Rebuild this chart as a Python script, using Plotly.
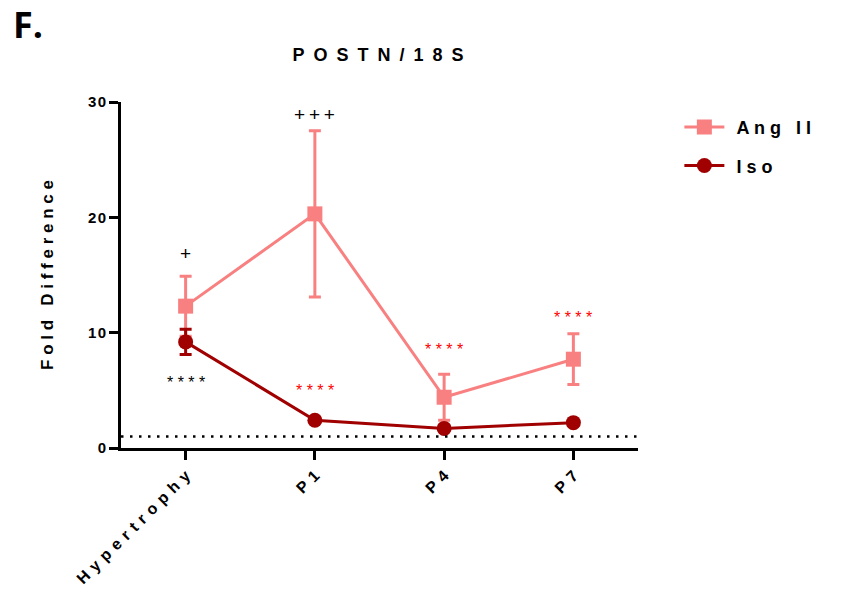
import plotly.graph_objects as go

categories = ["Hypertrophy", "P1", "P4", "P7"]
ang_mean = [12.3, 20.3, 4.4, 7.7]
ang_err = [2.6, 7.2, 2.0, 2.2]
iso_mean = [9.2, 2.4, 1.7, 2.2]
iso_err = [1.1, 0.2, 0.2, 0.2]
baseline = 1.0
yticks = [0, 10, 20, 30]

sig_black = [("+", 0, 16.9), ("+++", 1, 28.9), ("****", 0, 5.7)]
sig_red = [("****", 1, 5.0), ("****", 2, 8.5), ("****", 3, 11.3)]

def sp(s, sep="\u2009"):
    return sep.join(list(s))

ANG = "#F98080"
ISO = "#A00000"
FONT = "Liberation Sans, Arial, sans-serif"

xs = list(range(len(categories)))
fig = go.Figure()
fig.add_trace(go.Scatter(
    x=xs, y=ang_mean, name="<b>\u2009\u2009" + sp("Ang II", " ") + "</b>", mode="lines+markers",
    legendgroup="a",
    line=dict(color=ANG, width=3),
    marker=dict(symbol="square", size=15, color=ANG),
    error_y=dict(type="data", array=ang_err, color=ANG, thickness=3, width=6),
))
fig.add_trace(go.Scatter(
    x=xs, y=iso_mean, name="<b>\u2009\u2009" + sp("Iso", " ") + "</b>", mode="lines+markers",
    legendgroup="b",
    line=dict(color=ISO, width=3),
    marker=dict(symbol="circle", size=15, color=ISO),
    error_y=dict(type="data", array=iso_err, color=ISO, thickness=3, width=6),
))

fig.add_shape(type="line", xref="paper", yref="y", x0=0, x1=1, y0=baseline, y1=baseline,
              line=dict(color="black", width=2.5, dash="2.5px,6.5px"))

for txt, xi, yv in sig_black:
    if txt.startswith("+"):
        fig.add_annotation(x=xi, y=yv, text=sp(txt, "\u2009"), showarrow=False,
                           font=dict(family=FONT, size=19, color="#000000"))
    else:
        fig.add_annotation(x=xi, y=yv, text=sp(txt, " "), showarrow=False,
                           font=dict(family=FONT, size=16, color="#000000"))
for txt, xi, yv in sig_red:
    fig.add_annotation(x=xi, y=yv, text=sp(txt, " "), showarrow=False,
                       font=dict(family=FONT, size=16, color="#FF0000"))

fig.add_annotation(xref="paper", yref="paper", x=-0.212, y=1.225, xanchor="left", yanchor="middle",
                   text="<b>F.</b>", showarrow=False,
                   font=dict(family="Open Sans, sans-serif", size=36, color="black"))

fig.update_layout(
    width=841, height=589,
    margin=dict(l=121, r=203, t=102, b=141, autoexpand=False),
    paper_bgcolor="white", plot_bgcolor="white",
    title=dict(text="<b>" + sp("POSTN/18S", "\u2002") + "</b>", x=(378) / 841, xanchor="center",
               y=1 - 55 / 589, yanchor="middle",
               font=dict(family=FONT, size=18, color="black")),
    font=dict(family=FONT, color="black"),
    showlegend=True,
    legend=dict(x=1.08, y=0.98, xanchor="left", yanchor="top",
                font=dict(family=FONT, size=18, color="black"),
                itemwidth=40, tracegroupgap=12, bgcolor="rgba(0,0,0,0)"),
    xaxis=dict(range=[-0.5, 3.5], tickmode="array", tickvals=xs, automargin=False,
               ticktext=["<b>" + sp(c, " \u200a") + "</b>" for c in categories],
               tickangle=-45, showline=True, linecolor="black", linewidth=3,
               ticks="outside", ticklen=9, tickwidth=3, tickcolor="black",
               showgrid=False, zeroline=False, tickfont=dict(family=FONT, size=16)),
    yaxis=dict(range=[0, 30], tickmode="array", tickvals=yticks, automargin=False,
               ticktext=["<b>" + sp(str(v), "\u200a") + "</b>" for v in yticks],
               showline=True, linecolor="black", linewidth=3,
               ticks="outside", ticklen=9, tickwidth=3, tickcolor="black",
               showgrid=False, zeroline=False, tickfont=dict(family=FONT, size=15),
               title=dict(text="<b>" + sp("Fold Difference", " ") + "</b>",
                          font=dict(family=FONT, size=17), standoff=31)),
)

fig.write_html("out.html")
